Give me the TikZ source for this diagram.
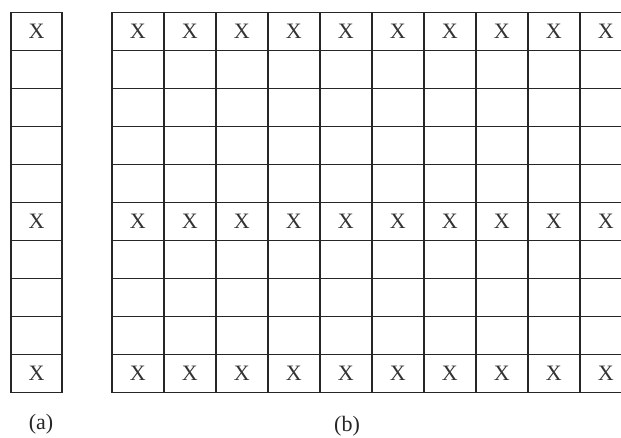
\documentclass[tikz,border=0pt]{standalone}
\usepackage{fontspec}
\setmainfont{Liberation Serif}
\begin{document}
\begin{tikzpicture}[x=1pt,y=-1pt,
  gridline/.style={line width=1.7pt,black!85},
  xmark/.style={font=\fontsize{22}{26}\selectfont,text=black!80,inner sep=0pt,anchor=center},
  caption/.style={font=\fontsize{22}{26}\selectfont,text=black!85,inner sep=0pt,anchor=center}]
\useasboundingbox (0,0) rectangle (621,437);
\clip (0,0) rectangle (621,437);
% (a) column
\draw[gridline] (11,12.5) rectangle (62,392.5);
\foreach \r in {1,...,9} \draw[gridline] (11,12.5+38*\r) -- (62,12.5+38*\r);
% (b) grid
\draw[gridline] (111.7,12.5) rectangle (631.7,392.5);
\foreach \r in {1,...,9} \draw[gridline] (111.7,12.5+38*\r) -- (631.7,12.5+38*\r);
\foreach \c in {1,...,9} \draw[gridline] (111.7+52*\c,12.5) -- (111.7+52*\c,392.5);
% X marks in (a)
\foreach \r/\n in {0/a0,5/a5,9/a9}
  \node[xmark] (\n) at (36.5,31.5+38*\r) {X};
% X marks in (b)
\foreach \r in {0,5,9}
  \foreach \c in {0,...,9}
    \node[xmark] (b\r c\c) at (137.7+52*\c,31.5+38*\r) {X};
\node[caption] (capa) at (41,424) {(a)};
\node[caption] (capb) at (347,426) {(b)};
\end{tikzpicture}
\end{document}
